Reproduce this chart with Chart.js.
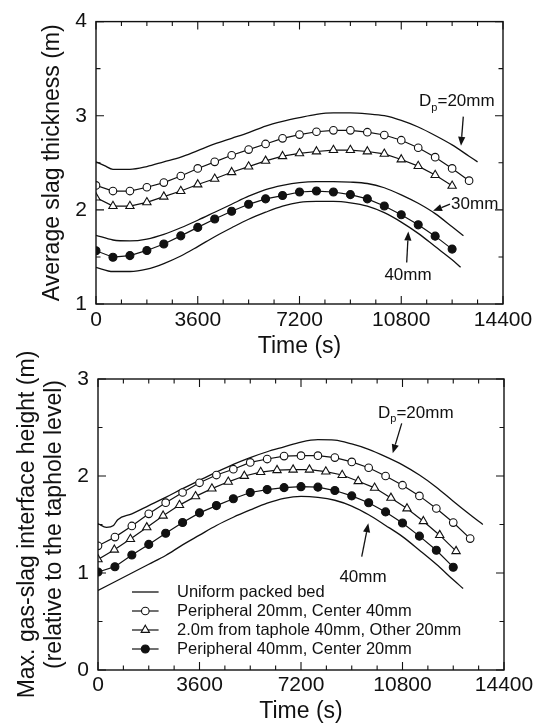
<!DOCTYPE html>
<html>
<head>
<meta charset="utf-8">
<script src="https://cdn.jsdelivr.net/npm/chart.js@4.4.0/dist/chart.umd.min.js"></script>
<style>
  html, body { margin: 0; padding: 0; background: #fff; }
  body { width: 545px; height: 727px; position: relative; overflow: hidden; }
  .box { position: absolute; left: 0; width: 545px; }
  #box-1 { top: 0; height: 360px; }
  #box-2 { top: 330px; height: 397px; }
</style>
</head>
<body>
<div class="box" id="box-1"><canvas id="chart-1"></canvas></div>
<div class="box" id="box-2"><canvas id="chart-2"></canvas></div>
<script>
// time axis (s)
var xTicks = [0, 3600, 7200, 10800, 14400];
var yTicksTop = [1, 2, 3, 4];
var yTicksBottom = [0, 1, 2, 3];

// marker times (s)
var tMark = [0, 600, 1200, 1800, 2400, 3000, 3600, 4200, 4800, 5400, 6000, 6600, 7200, 7800, 8400, 9000, 9600, 10200, 10800, 11400, 12000, 12600, 13200];
var tMarkShort = [0, 600, 1200, 1800, 2400, 3000, 3600, 4200, 4800, 5400, 6000, 6600, 7200, 7800, 8400, 9000, 9600, 10200, 10800, 11400, 12000, 12600];
var tTri = [0, 580, 1150, 1730, 2310, 2890, 3460, 4040, 4620, 5190, 5770, 6350, 6920, 7500, 8080, 8660, 9230, 9810, 10390, 10960, 11540, 12120, 12700];

// top panel: average slag thickness (m)
var slagPeri20 = [2.26, 2.20, 2.20, 2.24, 2.29, 2.36, 2.44, 2.51, 2.58, 2.64, 2.70, 2.76, 2.80, 2.83, 2.845, 2.845, 2.825, 2.795, 2.74, 2.66, 2.56, 2.44, 2.31];
var slagTaphole = [2.13, 2.04, 2.04, 2.08, 2.14, 2.20, 2.27, 2.33, 2.40, 2.46, 2.52, 2.57, 2.60, 2.62, 2.635, 2.635, 2.62, 2.595, 2.535, 2.465, 2.37, 2.255];
var slagPeri40 = [1.566, 1.497, 1.514, 1.569, 1.638, 1.724, 1.814, 1.903, 1.986, 2.059, 2.117, 2.152, 2.19, 2.20, 2.19, 2.162, 2.117, 2.041, 1.948, 1.841, 1.721, 1.583];

var tUni20 = [0, 300, 600, 1200, 1800, 2400, 3000, 3600, 4200, 4800, 5400, 6000, 6600, 7200, 7800, 8400, 9000, 9600, 10200, 10800, 11400, 12000, 12600, 13200, 13500];
var slagUni20 = [2.51, 2.47, 2.43, 2.43, 2.46, 2.51, 2.56, 2.63, 2.70, 2.76, 2.82, 2.89, 2.94, 2.98, 3.015, 3.03, 3.03, 3.02, 3.00, 2.95, 2.88, 2.79, 2.69, 2.57, 2.51];
var tUni30 = [0, 600, 1200, 1800, 2400, 3000, 3600, 4200, 4800, 5400, 6000, 6600, 7200, 7800, 8400, 9000, 9600, 10200, 10800, 11400, 12000, 12600, 13000];
var slagUni30 = [1.73, 1.68, 1.67, 1.69, 1.74, 1.81, 1.89, 1.975, 2.06, 2.145, 2.215, 2.26, 2.29, 2.30, 2.30, 2.295, 2.28, 2.235, 2.16, 2.07, 1.96, 1.82, 1.725];
var tUni40 = [0, 600, 1200, 1800, 2400, 3000, 3600, 4200, 4800, 5400, 6000, 6600, 7200, 7800, 8400, 9000, 9600, 10200, 10800, 11400, 12000, 12600, 12900];
var slagUni40 = [1.39, 1.345, 1.345, 1.37, 1.43, 1.51, 1.61, 1.715, 1.81, 1.90, 1.975, 2.04, 2.08, 2.09, 2.09, 2.075, 2.04, 1.97, 1.87, 1.75, 1.61, 1.47, 1.39];

// bottom panel: max. gas-slag interface height (m)
var gasPeri20 = [1.28, 1.37, 1.485, 1.61, 1.725, 1.83, 1.93, 2.01, 2.07, 2.14, 2.175, 2.205, 2.21, 2.21, 2.19, 2.145, 2.085, 2.00, 1.905, 1.795, 1.665, 1.52, 1.355];
var gasTaphole = [1.14, 1.24, 1.35, 1.47, 1.59, 1.70, 1.79, 1.87, 1.94, 2.00, 2.04, 2.06, 2.065, 2.065, 2.045, 2.01, 1.946, 1.878, 1.774, 1.665, 1.534, 1.39, 1.225];
var gasPeri40 = [1.01, 1.065, 1.185, 1.295, 1.41, 1.52, 1.62, 1.695, 1.765, 1.83, 1.86, 1.88, 1.89, 1.885, 1.85, 1.795, 1.725, 1.63, 1.515, 1.38, 1.235, 1.06];

var tGas20 = [0, 300, 550, 700, 1200, 1800, 2400, 3000, 3600, 4200, 4800, 5400, 6000, 6600, 7200, 7800, 8400, 9000, 9600, 10200, 10800, 11400, 12000, 12600, 13200, 13650];
var gasUni20 = [1.51, 1.47, 1.49, 1.55, 1.61, 1.695, 1.78, 1.87, 1.955, 2.04, 2.12, 2.19, 2.25, 2.30, 2.35, 2.375, 2.37, 2.33, 2.275, 2.20, 2.115, 2.01, 1.885, 1.74, 1.60, 1.50];
var tGas40 = [0, 600, 1200, 1800, 2400, 3000, 3600, 4200, 4800, 5400, 6000, 6600, 7200, 7800, 8400, 9000, 9600, 10200, 10800, 11400, 12000, 12600, 12950];
var gasUni40 = [0.82, 0.91, 1.00, 1.09, 1.18, 1.29, 1.39, 1.49, 1.575, 1.65, 1.72, 1.77, 1.79, 1.78, 1.75, 1.69, 1.60, 1.49, 1.375, 1.235, 1.09, 0.93, 0.84];

var ink = '#111';
var FONT = "'Liberation Sans', Arial, Helvetica, sans-serif";
Chart.defaults.font.family = FONT;
Chart.defaults.color = ink;

function pts(xs, ys) {
    return ys.map((y, i) => ({x: xs[i], y: y}));
}

function uniform(xs, ys) {
    return {
        label: 'Uniform packed bed',
        data: pts(xs, ys),
        borderColor: ink,
        borderWidth: 1.3,
        pointRadius: 0,
        cubicInterpolationMode: 'monotone',
        order: 2
    };
}

function marked(label, xs, ys, style, fill, r) {
    return {
        label: label,
        data: pts(xs, ys),
        borderColor: ink,
        borderWidth: 1.2,
        pointStyle: style,
        pointRadius: r,
        pointBackgroundColor: fill,
        pointBorderColor: ink,
        pointBorderWidth: 1.1,
        tension: 0,
        order: 1
    };
}

// box with inward ticks on all four sides
var framePlugin = {
    id: 'frame',
    afterDraw(chart) {
        const {ctx, chartArea: a, scales: {x, y}} = chart;
        ctx.save();
        ctx.strokeStyle = ink;
        ctx.lineWidth = 1.4;
        ctx.strokeRect(a.left, a.top, a.right - a.left, a.bottom - a.top);
        ctx.lineWidth = 1.1;
        ctx.beginPath();
        for (let v = x.min; v <= x.max; v += 900) {
            const px = x.getPixelForValue(v);
            const len = v % 3600 === 0 ? 8 : 4.5;
            ctx.moveTo(px, a.bottom); ctx.lineTo(px, a.bottom - len);
            ctx.moveTo(px, a.top); ctx.lineTo(px, a.top + len);
        }
        for (let v = y.min; v <= y.max + 1e-6; v += 0.5) {
            const py = y.getPixelForValue(v);
            const len = Math.abs(v - Math.round(v)) < 1e-6 ? 8 : 4.5;
            ctx.moveTo(a.left, py); ctx.lineTo(a.left + len, py);
            ctx.moveTo(a.right, py); ctx.lineTo(a.right - len, py);
        }
        ctx.stroke();
        ctx.restore();
    }
};

// labels and arrows, placed in data units
var notesPlugin = {
    id: 'notes',
    afterDatasetsDraw(chart, args, opts) {
        const {ctx, scales: {x, y}} = chart;
        ctx.save();
        ctx.fillStyle = ink;
        ctx.strokeStyle = ink;
        ctx.lineWidth = 1.3;
        (opts.arrows || []).forEach(a => {
            const x0 = x.getPixelForValue(a[0]), y0 = y.getPixelForValue(a[1]);
            const x1 = x.getPixelForValue(a[2]), y1 = y.getPixelForValue(a[3]);
            const ang = Math.atan2(y1 - y0, x1 - x0);
            const hl = 9, hw = 3.6;
            const bx = x1 - hl * Math.cos(ang), by = y1 - hl * Math.sin(ang);
            ctx.beginPath();
            ctx.moveTo(x0, y0); ctx.lineTo(bx, by);
            ctx.stroke();
            ctx.beginPath();
            ctx.moveTo(x1, y1);
            ctx.lineTo(bx + hw * Math.sin(ang), by - hw * Math.cos(ang));
            ctx.lineTo(bx - hw * Math.sin(ang), by + hw * Math.cos(ang));
            ctx.closePath();
            ctx.fill();
        });
        ctx.textBaseline = 'middle';
        (opts.labels || []).forEach(l => {
            let px = x.getPixelForValue(l.t);
            const py = y.getPixelForValue(l.v);
            ctx.font = '17px ' + FONT;
            if (l.sub) {
                ctx.textAlign = 'left';
                ctx.fillText(l.text, px, py);
                px += ctx.measureText(l.text).width;
                ctx.font = '11px ' + FONT;
                ctx.fillText(l.sub, px, py + 6);
                px += ctx.measureText(l.sub).width;
                ctx.font = '17px ' + FONT;
                ctx.fillText(l.rest, px, py);
            } else {
                ctx.textAlign = 'center';
                ctx.fillText(l.text, px, py);
            }
        });
        ctx.restore();
    }
};

// legend inside the plot area
var keyPlugin = {
    id: 'keyBox',
    afterDraw(chart, args, opts) {
        const {ctx, chartArea: a} = chart;
        const seen = {};
        let row = 0;
        ctx.save();
        ctx.font = opts.size + 'px ' + FONT;
        ctx.textBaseline = 'middle';
        ctx.textAlign = 'left';
        chart.data.datasets.forEach(ds => {
            if (seen[ds.label]) return;
            seen[ds.label] = true;
            const yy = a.top + opts.top + row * opts.step;
            const x0 = a.left + opts.left, x1 = x0 + opts.width, xm = (x0 + x1) / 2;
            ctx.strokeStyle = ink;
            ctx.lineWidth = ds.borderWidth;
            ctx.beginPath(); ctx.moveTo(x0, yy); ctx.lineTo(x1, yy); ctx.stroke();
            if (ds.pointRadius > 0) {
                const r = ds.pointRadius;
                ctx.fillStyle = ds.pointBackgroundColor;
                ctx.lineWidth = ds.pointBorderWidth;
                ctx.beginPath();
                if (ds.pointStyle === 'triangle') {
                    for (let k = 0; k < 3; k++) {
                        const ang = k * 2 * Math.PI / 3;
                        const px = xm + Math.sin(ang) * r, py = yy - Math.cos(ang) * r;
                        k ? ctx.lineTo(px, py) : ctx.moveTo(px, py);
                    }
                    ctx.closePath();
                } else {
                    ctx.arc(xm, yy, r, 0, 2 * Math.PI);
                }
                ctx.fill(); ctx.stroke();
            }
            ctx.fillStyle = ink;
            ctx.fillText(ds.label, x0 + opts.textGap, yy);
            row++;
        });
        ctx.restore();
    }
};

function makeChart(id, cfg) {
    return new Chart(document.getElementById(id), {
        type: 'line',
        data: {datasets: cfg.datasets},
        options: {
            responsive: true,
            maintainAspectRatio: false,
            animation: false,
            layout: {padding: cfg.padding},
            plugins: {
                legend: {display: false},
                tooltip: {enabled: false},
                notes: cfg.notes,
                keyBox: cfg.key || false
            },
            scales: {
                x: {
                    type: 'linear', min: 0, max: 14400,
                    afterBuildTicks: s => { s.ticks = xTicks.map(v => ({value: v})); },
                    afterFit: s => { s.height = cfg.xHeight; },
                    grid: {display: false, drawTicks: false},
                    border: {display: false},
                    ticks: {padding: cfg.xTickPad, font: {size: 21}, color: ink, maxRotation: 0,
                        callback: v => String(v)},
                    title: {display: true, text: 'Time (s)', color: ink,
                        font: {size: 23, lineHeight: 1.18}, padding: {top: 0, bottom: cfg.xTitlePad}}
                },
                y: {
                    type: 'linear', min: cfg.yMin, max: cfg.yMax,
                    afterBuildTicks: s => { s.ticks = cfg.yTicks.map(v => ({value: v})); },
                    afterFit: s => { s.width = cfg.yWidth; },
                    grid: {display: false, drawTicks: false},
                    border: {display: false},
                    ticks: {padding: 9, font: {size: 21}, color: ink, callback: v => String(v)},
                    title: {display: true, text: cfg.yTitle, color: ink,
                        font: {size: 23, lineHeight: 1.18}, padding: {top: cfg.yTitlePad, bottom: 0}}
                }
            }
        },
        plugins: [framePlugin, notesPlugin, keyPlugin]
    });
}

makeChart('chart-1', {
    datasets: [
        uniform(tUni20, slagUni20),
        uniform(tUni30, slagUni30),
        uniform(tUni40, slagUni40),
        marked('Peripheral 20mm, Center 40mm', tMark, slagPeri20, 'circle', '#fff', 3.8),
        marked('2.0m from taphole 40mm, Other 20mm', tMarkShort, slagTaphole, 'triangle', '#fff', 4.8),
        marked('Peripheral 40mm, Center 20mm', tMarkShort, slagPeri40, 'circle', ink, 4)
    ],
    padding: {left: 0, right: 42, top: 14, bottom: 0},
    xHeight: 56, xTickPad: 4, xTitlePad: 0,
    yMin: 1, yMax: 4, yTicks: yTicksTop, yWidth: 96, yTitlePad: 39,
    yTitle: 'Average slag thickness (m)',
    notes: {
        labels: [
            {t: 11430, v: 3.15, text: 'D', sub: 'p', rest: '=20mm'},
            {t: 13400, v: 2.055, text: '30mm'},
            {t: 11040, v: 1.31, text: '40mm'}
        ],
        arrows: [
            [12995, 2.99, 12914, 2.68],
            [12525, 2.06, 11925, 1.99],
            [10993, 1.44, 11050, 1.77]
        ]
    }
});

makeChart('chart-2', {
    datasets: [
        uniform(tGas20, gasUni20),
        uniform(tGas40, gasUni40),
        marked('Peripheral 20mm, Center 40mm', tMark, gasPeri20, 'circle', '#fff', 3.8),
        marked('2.0m from taphole 40mm, Other 20mm', tTri, gasTaphole, 'triangle', '#fff', 4.8),
        marked('Peripheral 40mm, Center 20mm', tMarkShort, gasPeri40, 'circle', ink, 4)
    ],
    padding: {left: 0, right: 41, top: 49, bottom: 0},
    xHeight: 57, xTickPad: 3, xTitlePad: 1.5,
    yMin: 0, yMax: 3, yTicks: yTicksBottom, yWidth: 98, yTitlePad: 14,
    yTitle: ['Max. gas-slag interface height (m)', '(relative to the taphole level)'],
    notes: {
        labels: [
            {t: 9932, v: 2.645, text: 'D', sub: 'p', rest: '=20mm'},
            {t: 9400, v: 0.96, text: '40mm'}
        ],
        arrows: [
            [10772, 2.543, 10453, 2.234],
            [9354, 1.168, 9588, 1.512]
        ]
    },
    key: {left: 34, width: 26.6, textGap: 45, top: 213, step: 19, size: 16.5}
});
</script>
</body>
</html>
